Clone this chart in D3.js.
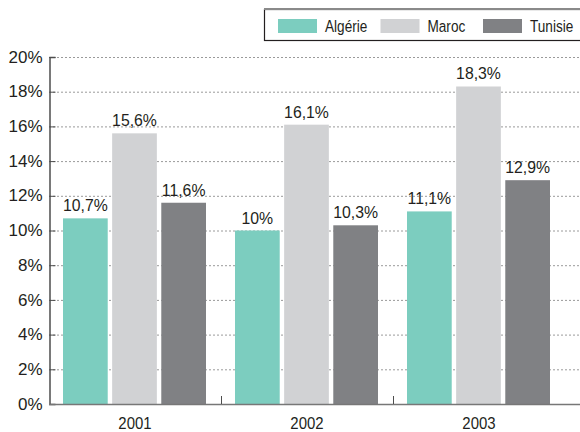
<!DOCTYPE html>
<html>
<head>
<meta charset="utf-8">
<script src="https://cdn.jsdelivr.net/npm/d3@7/dist/d3.min.js"></script>
<style>
  body { margin: 0; background: #fff; }
  svg { display: block; }
  text { font-family: "Liberation Sans", Arial, sans-serif; fill: #231f20; }
</style>
</head>
<body>
<svg width="580" height="432"></svg>
<script>
var years = ["2001", "2002", "2003"];
var countries = ["Algérie", "Maroc", "Tunisie"];
var algerie = [10.7, 10, 11.1];
var maroc = [15.6, 16.1, 18.3];
var tunisie = [11.6, 10.3, 12.9];
var valueLabels = [["10,7%", "15,6%", "11,6%"], ["10%", "16,1%", "10,3%"], ["11,1%", "18,3%", "12,9%"]];
var yTicks = [0, 2, 4, 6, 8, 10, 12, 14, 16, 18, 20];
var colors = ["#7ccdbf", "#d1d2d4", "#808184"];

var svg = d3.select("svg"),
    width = +svg.attr("width"),
    height = +svg.attr("height");

// squeeze text horizontally (the original uses a narrow font)
function condense(sel, sx) {
    sel.each(function() {
        var t = d3.select(this);
        var tx = +t.attr("x") || 0, ty = +t.attr("y") || 0;
        t.attr("x", 0).attr("y", 0)
            .attr("transform", "translate(" + tx + "," + ty + ") scale(" + sx + ",1)");
    });
}

var series = [algerie, maroc, tunisie];
var rows = years.map(function(y, i) {
    return countries.map(function(c, j) {
        return { year: y, country: c, value: series[j][i], label: valueLabels[i][j] };
    });
});

var x0 = d3.scaleBand().domain(years).range([49, 565]).padding(0);
var x1 = d3.scaleBand().domain(countries).range([14, 157]).paddingInner(0.09).paddingOuter(0);
var y = d3.scaleLinear().domain([0, 20]).range([404, 57]);
var color = d3.scaleOrdinal().domain(countries).range(colors);

// dotted grid
svg.append("g")
    .selectAll("line")
    .data(yTicks.filter(function(d) { return d > 0; }))
    .enter().append("line")
    .attr("x1", 49)
    .attr("x2", width)
    .attr("y1", function(d) { return y(d) + 0.5; })
    .attr("y2", function(d) { return y(d) + 0.5; })
    .attr("stroke", "#9a9a9a")
    .attr("stroke-width", 1)
    .attr("stroke-dasharray", "2,2");

// bars
var group = svg.append("g")
    .selectAll("g")
    .data(rows)
    .enter().append("g")
    .attr("transform", function(d) { return "translate(" + x0(d[0].year) + ",0)"; });

group.selectAll("rect")
    .data(function(d) { return d; })
    .enter().append("rect")
    .attr("x", function(d) { return x1(d.country); })
    .attr("y", function(d) { return y(d.value); })
    .attr("width", x1.bandwidth())
    .attr("height", function(d) { return y(0) - y(d.value); })
    .attr("fill", function(d) { return color(d.country); });

group.selectAll("text")
    .data(function(d) { return d; })
    .enter().append("text")
    .attr("x", function(d) { return x1(d.country) + x1.bandwidth() / 2; })
    .attr("y", function(d) { return y(d.value) - 7; })
    .attr("text-anchor", "middle")
    .style("font-size", "17px")
    .text(function(d) { return d.label; })
    .call(condense, 0.93);

// y axis
var yAxis = svg.append("g")
    .attr("transform", "translate(49.5,0)")
    .call(d3.axisRight(y).tickValues(yTicks).tickSize(6).tickFormat(function(d) { return d + "%"; }));
yAxis.select(".domain").attr("stroke", "#4d4d4d").attr("stroke-width", 1.5);
yAxis.selectAll(".tick line").attr("stroke", "#4d4d4d");
yAxis.selectAll(".tick text")
    .attr("x", -7)
    .attr("text-anchor", "end")
    .attr("dy", "0.3em")
    .style("font-size", "17px")
    .style("font-family", "'Liberation Sans', Arial, sans-serif")
    .attr("fill", "#231f20");

// x axis
svg.append("line")
    .attr("x1", 49).attr("x2", width)
    .attr("y1", 404.5).attr("y2", 404.5)
    .attr("stroke", "#777").attr("stroke-width", 1.5);

svg.append("g")
    .selectAll("line")
    .data(years.slice(1))
    .enter().append("line")
    .attr("x1", function(d) { return x0(d) + 0.5; })
    .attr("x2", function(d) { return x0(d) + 0.5; })
    .attr("y1", 396).attr("y2", 404)
    .attr("stroke", "#4d4d4d");

svg.append("g")
    .selectAll("text")
    .data(years)
    .enter().append("text")
    .attr("x", function(d) { return x0(d) + x0.bandwidth() / 2; })
    .attr("y", 429)
    .attr("text-anchor", "middle")
    .style("font-size", "17px")
    .text(function(d) { return d; })
    .call(condense, 0.88);

// legend
var legend = svg.append("g");
legend.append("rect")
    .attr("x", 264.5).attr("y", 9.5)
    .attr("width", 330).attr("height", 31)
    .attr("fill", "#fff")
    .attr("stroke", "#231f20").attr("stroke-width", 1.2);
legend.append("line")
    .attr("x1", 264).attr("x2", width)
    .attr("y1", 9).attr("y2", 9)
    .attr("stroke", "#8a8a8a").attr("stroke-width", 2);

var legendX = d3.scalePoint().domain(countries).range([278, 483]);
var item = legend.selectAll("g.item")
    .data(countries)
    .enter().append("g")
    .attr("class", "item")
    .attr("transform", function(d) { return "translate(" + legendX(d) + ",0)"; });
item.append("rect")
    .attr("x", 0).attr("y", 19)
    .attr("width", 39).attr("height", 14)
    .attr("fill", function(d) { return color(d); });
item.append("text")
    .attr("x", 47)
    .attr("y", 31.5)
    .style("font-size", "17px")
    .text(function(d) { return d; })
    .call(condense, 0.8);
</script>
</body>
</html>
